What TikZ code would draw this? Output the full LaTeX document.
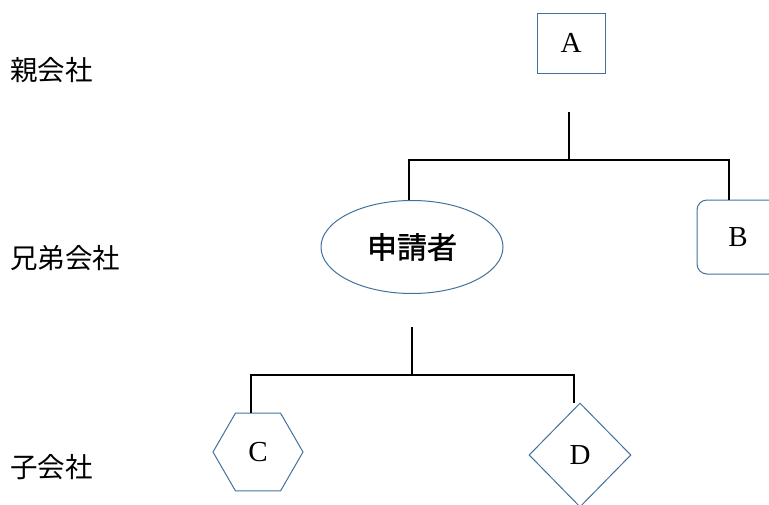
\documentclass[tikz,border=0pt]{standalone}
\usepackage{fontspec}
\newfontfamily\jpfont{Noto Sans CJK JP}
\newfontfamily\jpheavy[FakeBold=1.3]{Noto Sans CJK JP}
\newfontfamily\letterfont{Liberation Serif}
\usetikzlibrary{positioning,shapes.geometric}
\definecolor{shapeblue}{RGB}{65,113,156}
\begin{document}
\begin{tikzpicture}[
  x=1pt, y=-1pt,
  every node/.style={font=\letterfont\fontsize{29}{32}\selectfont, inner sep=0pt},
  box/.style={rectangle, draw=shapeblue, line width=1pt, minimum width=68pt, minimum height=60pt},
  roundbox/.style={rectangle, rounded corners=10pt, draw=shapeblue, line width=1pt, minimum width=82pt, minimum height=74pt},
  oval/.style={ellipse, draw=shapeblue, line width=1pt, minimum width=182pt, minimum height=93pt},
  hexa/.style={regular polygon, regular polygon sides=6, draw=shapeblue, line width=1pt, minimum size=90pt},
  diam/.style={diamond, draw=shapeblue, line width=1pt, minimum width=102pt, minimum height=104pt},
  level/.style={anchor=west, font=\jpfont\fontsize{27.5}{32}\selectfont},
  link/.style={draw=black, line width=2pt}
]
\clip (0,0) rectangle (769,504);

% levels
\node[level] (parent) at (10,70) {親会社};
\node[level] (sister) at (10,258) {兄弟会社};
\node[level] (child) at (10,467) {子会社};

% companies
\node[box] (a) at (571,43) {A};
\node[oval, font=\jpheavy\fontsize{30}{32}\selectfont] (applicant) at (412,247) {申請者};
\node[roundbox] (b) at (738,237) {B};
\node[hexa] (c) at (258,452) {C};
\node[diam] (d) at (580,455) {D};

% tree lines
\coordinate (atop) at (569,112);
\coordinate (ajoin) at (569,160);
\coordinate (stop) at (412,327);
\coordinate (sjoin) at (412,375);

\draw[link] (atop) -- (ajoin);
\draw[link] ([xshift=-3pt]applicant.north) |- (ajoin) -| ([xshift=-9pt]b.north);
\draw[link] (stop) -- (sjoin);
\draw[link] ([xshift=-7pt]c.north) |- (sjoin) -| ([xshift=-6pt]d.north);
\end{tikzpicture}
\end{document}
